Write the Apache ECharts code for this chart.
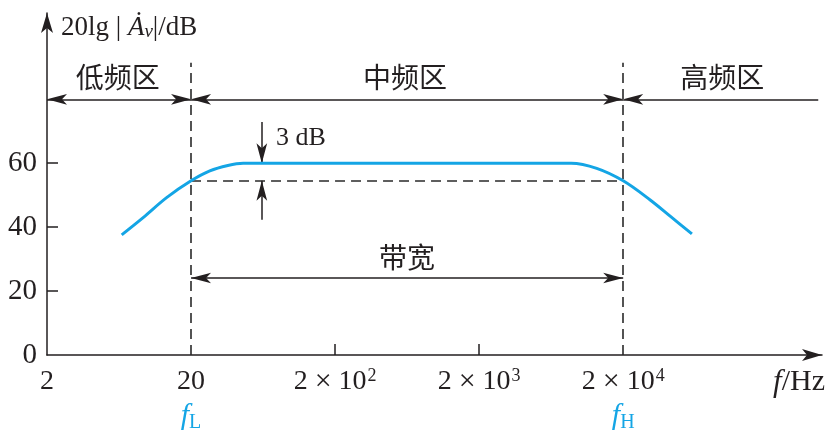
<!DOCTYPE html>
<html><head><meta charset="utf-8">
<script src="https://cdn.jsdelivr.net/npm/echarts@6/dist/echarts.min.js"></script>
<style>html,body{margin:0;padding:0;background:#fff}#c{width:834px;height:437px}</style>
</head><body><div id="c"></div>
<script>
// ---- data ----
const freqHz = [6.6, 9.3, 13.6, 20, 27, 36, 46, 8700, 13100, 20000, 30800, 43000, 60000];
const gainDb = [37.6, 43.0, 49.3, 54.5, 57.6, 59.3, 60, 60, 58.4, 54.5, 48.5, 43.2, 37.9];
const xTickValues = [2, 20, 200, 2000, 20000];
const xTickExp = ['', '', '2', '3', '4'];
const yTickValues = [0, 20, 40, 60];
const fL = 20, fH = 20000;
const cutoffDb = 54.5, midDb = 60;
const regionNames = ['低频区', '中频区', '高频区'];
const regionFreq = [6.2, 612, 97400];
const regionDb = 87;
const bandDb = 80;
const bwDb = 24.1;
const bwLabel = '带宽';
const xMin = 2, xMax = 480000, yMax = 107;
const bandEnd = 452000, dashTop = 91.4;
const dbMarkFreq = 62, dbArrowTop = 72.9, dbArrowBottom = 42.3;
const dbLabel = '3 dB', dbLabelFreq = 116, dbLabelDb = 67.9;

const serif = '"Liberation Serif", "DejaVu Serif", serif';
const cjk = '"Noto Sans CJK SC", sans-serif';
const ink = '#231F20';
const blue = '#14A5E5';
const arrowSize = [8, 20];

function seg(a, b, s0, s1, style) {
  return [
    { coord: a, symbol: s0, symbolSize: arrowSize, lineStyle: style },
    { coord: b, symbol: s1, symbolSize: arrowSize }
  ];
}
const solid = { color: ink, width: 1.5, type: 'solid' };
const dashed = { color: '#2a2a2a', width: 1.6, type: [10, 6] };

const chart = echarts.init(document.getElementById('c'), null, { renderer: 'canvas' });
chart.setOption({
  animation: false,
  grid: { left: 47, right: 12, top: 13, bottom: 82, containLabel: false, outerBoundsMode: 'none' },
  xAxis: {
    type: 'log', logBase: 10, min: xMin, max: xMax,
    name: '{fi|f}{n|/Hz}', nameLocation: 'end', nameGap: 3,
    nameTextStyle: {
      align: 'right', verticalAlign: 'top', padding: [12, 0, 0, 0],
      rich: {
        fi: { fontFamily: serif, fontStyle: 'italic', fontSize: 31, color: ink },
        n: { fontFamily: serif, fontSize: 30, color: ink }
      }
    },
    axisLine: { lineStyle: { color: ink, width: 1.5 }, symbol: ['none', 'arrow'], symbolSize: [9, 20] },
    axisTick: { inside: true, length: 11, lineStyle: { color: ink, width: 1.5 }, customValues: [200, 2000] },
    splitLine: { show: false },
    minorTick: { show: false },
    axisLabel: {
      customValues: xTickValues, margin: 10,
      formatter: function (v) {
        const i = Math.round(Math.log10(v / 2));
        if (i === 0) return '{n|2}';
        if (i === 1) return '{n|20}\n{fi|f}{fs|L}';
        const base = '{n|2 }{x|×}{n| 10}{sup|' + xTickExp[i] + '}';
        if (i === 4) return base + '\n{fi|f}{fs|H}';
        return base;
      },
      rich: {
        n: { fontFamily: serif, fontSize: 28, color: ink, lineHeight: 34 },
        x: { fontFamily: serif, fontSize: 30, color: ink, lineHeight: 34 },
        sup: { fontFamily: serif, fontSize: 18, color: ink, verticalAlign: 'top', lineHeight: 20, padding: [2, 0, 0, 1] },
        fi: { fontFamily: serif, fontStyle: 'italic', fontSize: 30, color: blue, lineHeight: 34 },
        fs: { fontFamily: serif, fontSize: 20, color: blue, verticalAlign: 'bottom', lineHeight: 24 }
      }
    }
  },
  yAxis: {
    type: 'value', min: 0, max: yMax,
    name: '{a|20lg | }{A|Ȧ}{v|v}{a||/dB}', nameLocation: 'end', nameGap: -15,
    nameTextStyle: {
      align: 'left', verticalAlign: 'middle', padding: [0, 0, 0, 14],
      rich: {
        a: { fontFamily: serif, fontSize: 27, color: ink },
        A: { fontFamily: serif, fontStyle: 'italic', fontSize: 27, color: ink },
        v: { fontFamily: serif, fontStyle: 'italic', fontSize: 19, color: ink, verticalAlign: 'bottom', lineHeight: 20 }
      }
    },
    axisLine: { show: true, lineStyle: { color: ink, width: 1.5 }, symbol: ['none', 'arrow'], symbolSize: [9, 20] },
    axisTick: { show: true, inside: true, length: 11, lineStyle: { color: ink, width: 1.5 }, customValues: [20, 40, 60] },
    splitLine: { show: false },
    axisLabel: { customValues: yTickValues, margin: 10, fontFamily: serif, fontSize: 29, color: ink }
  },
  series: [
    {
      type: 'line', name: 'gain', smooth: 0.35, showSymbol: false,
      data: freqHz.map((f, i) => [f, gainDb[i]]),
      lineStyle: { color: blue, width: 3 }, z: 5
    },
    {
      type: 'line', name: 'annot', data: [], silent: true, z: 3,
      markLine: {
        silent: true, animation: false, label: { show: false },
        data: [
          seg([fL, 0], [fL, dashTop], 'none', 'none', dashed),
          seg([fH, 0], [fH, dashTop], 'none', 'none', dashed),
          seg([fL, cutoffDb], [fH, cutoffDb], 'none', 'none', dashed),
          seg([xMin, bandDb], [fL, bandDb], 'arrow', 'arrow', solid),
          seg([fL, bandDb], [fH, bandDb], 'arrow', 'arrow', solid),
          seg([fH, bandDb], [bandEnd, bandDb], 'arrow', 'none', solid),
          seg([fL, bwDb], [fH, bwDb], 'arrow', 'arrow', solid),
          seg([dbMarkFreq, dbArrowTop], [dbMarkFreq, midDb], 'none', 'arrow', solid),
          seg([dbMarkFreq, dbArrowBottom], [dbMarkFreq, cutoffDb], 'none', 'arrow', solid)
        ]
      },
      markPoint: {
        symbol: 'circle', symbolSize: 0, silent: true, animation: false,
        itemStyle: { color: 'rgba(0,0,0,0)' },
        label: { show: true, position: 'inside', color: ink },
        data: regionNames.map((n, i) => ({
          coord: [regionFreq[i], regionDb],
          label: { formatter: n, fontFamily: cjk, fontSize: 28, color: ink }
        })).concat([
          { coord: [632, bwDb + 6.3], label: { formatter: bwLabel, fontFamily: cjk, fontSize: 28, color: ink } },
          { coord: [dbLabelFreq, dbLabelDb], label: { formatter: dbLabel, fontFamily: serif, fontSize: 26, color: ink } }
        ])
      }
    }
  ]
});
</script>
</body></html>
